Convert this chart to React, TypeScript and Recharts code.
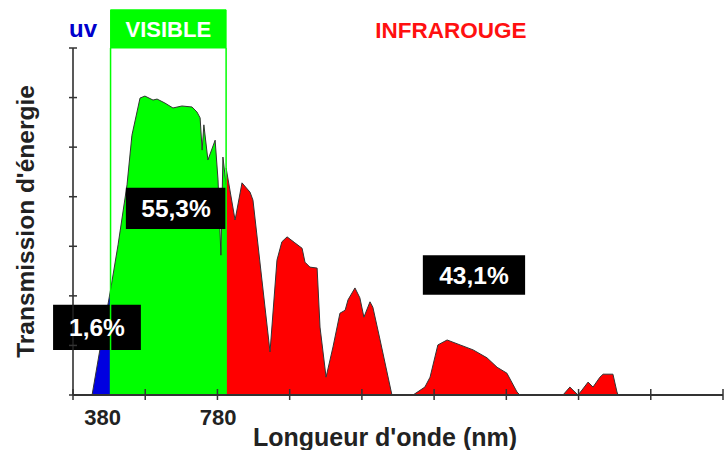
import React from 'react';
import { AreaChart, Area, XAxis, YAxis, ReferenceArea, ReferenceLine, ReferenceDot } from 'recharts';

// transmission values (arbitrary units, 0-70)
const uvNm = [316, 343, 380];
const uvValues = [0, 9.1, 21.2];

const visibleNm = [380, 406, 437, 454, 482, 499, 527, 541, 568, 596, 627, 662, 679, 690, 697, 703, 717, 742, 752, 762, 769, 780];
const visibleValues = [21.2, 30.3, 42.4, 52.4, 59.9, 60.3, 59.5, 59.7, 58.9, 57.9, 58.3, 58.1, 57.1, 55.9, 49.4, 54.5, 47.4, 51.4, 43.4, 28.2, 48.0, 42.4];

const infraredNm = [
  780, 811, 835, 863, 873, 904, 932, 956, 973, 991, 1018, 1043, 1053, 1070, 1095, 1105, 1126, 1150, 1174, 1192,
  1202, 1226, 1243, 1257, 1278, 1288, 1313, 1354, 1427, 1468, 1486, 1513, 1545, 1590, 1635, 1683, 1718, 1752,
  1787, 1797, 1946, 1970, 1998, 2012, 2033, 2050, 2074, 2085, 2119, 2133, 2137,
];
const infraredValues = [
  45.8, 35.3, 42.8, 40.9, 39.3, 23.2, 8.7, 27.2, 30.9, 31.9, 30.7, 29.6, 26.8, 25.8, 25.6, 13.7, 3.6, 9.7, 16.5, 17.1,
  19.2, 21.6, 19.6, 15.7, 18.8, 17.7, 11.1, 0, 0, 1.6, 3.6, 10.1, 11.1, 10.1, 9.1, 7.5, 5.6, 4.4,
  0.6, 0, 0, 1.6, 0, 1.0, 2.6, 1.6, 3.6, 4.2, 4.2, 0.6, 0,
];

const xTicks = [250, 380, 500, 750, 780, 1000, 1250, 1500, 1750, 2000, 2250, 2500];
const xLabels = [380, 780];
const yTicks = [0, 10, 20, 30, 40, 50, 60, 70];

type Row = { nm: number; uv: number | null; visible: number | null; infrared: number | null };

const buildData = () => {
  const rows = new Map<number, Row>();
  const put = (nms: number[], vals: number[], key: 'uv' | 'visible' | 'infrared') => {
    nms.forEach((nm, i) => {
      const row = rows.get(nm) ?? { nm, uv: null, visible: null, infrared: null };
      row[key] = vals[i];
      rows.set(nm, row);
    });
  };
  put(uvNm, uvValues, 'uv');
  put(visibleNm, visibleValues, 'visible');
  put(infraredNm, infraredValues, 'infrared');
  return [...rows.values()].sort((a, b) => a.nm - b.nm);
};

const data = buildData();

const XTick = ({ x, y, payload }: any) => {
  const v = payload.value;
  return (
    <g>
      {v % 250 === 0 && <line x1={x} x2={x} y1={y - 6} y2={y + 5} stroke="#333" strokeWidth={1.5} />}
      {xLabels.includes(v) && (
        <text x={x - 8} y={y + 22} textAnchor="middle" dominantBaseline="central" fontSize={22} fontWeight="bold" fill="#222">
          {v}
        </text>
      )}
    </g>
  );
};

const YTick = ({ x, y }: any) => (
  <line x1={x - 4} x2={x + 4} y1={y} y2={y} stroke="#333" strokeWidth={1.5} />
);

const XTitle = ({ viewBox }: any) => (
  <text x={viewBox.x + viewBox.width / 2 - 13} y={viewBox.y + 51} textAnchor="middle" fontSize={25} fontWeight="bold" fill="#222">
    Longueur d'onde (nm)
  </text>
);

const YTitle = ({ viewBox }: any) => {
  const cx = viewBox.x + 25;
  const cy = viewBox.y + viewBox.height / 2;
  return (
    <text x={cx} y={cy} transform={`rotate(-90, ${cx}, ${cy})`} textAnchor="middle" dominantBaseline="central" fontSize={24.5} fontWeight="bold" fill="#222">
      Transmission d'énergie
    </text>
  );
};

const boxLabel = (value: string) => ({
  value,
  position: 'center' as const,
  fill: '#fff',
  fontSize: 24.5,
  fontWeight: 'bold',
});

export default function App() {
  return (
    <div
      style={{
        position: 'absolute',
        left: 0,
        top: 0,
        width: 727,
        height: 450,
        background: '#fff',
        fontFamily: '"Liberation Sans", Arial, sans-serif',
      }}
    >
      <AreaChart width={727} height={450} data={data} margin={{ top: 48, right: 4, bottom: 0, left: 0 }}>
        <XAxis
          dataKey="nm"
          type="number"
          domain={[250, 2500]}
          ticks={xTicks}
          interval={0}
          height={55}
          tickSize={0}
          tickMargin={0}
          tickLine={false}
          tick={<XTick />}
          axisLine={{ stroke: '#333', strokeWidth: 2 }}
          label={<XTitle />}
        />
        <XAxis
          xAxisId="frame"
          orientation="top"
          type="number"
          domain={[250, 2500]}
          height={0}
          tick={false}
          tickLine={false}
          axisLine={{ stroke: '#888', strokeWidth: 2 }}
        />
        <YAxis
          type="number"
          domain={[0, 70]}
          ticks={yTicks}
          interval={0}
          width={73}
          tickSize={0}
          tickMargin={0}
          tickLine={false}
          tick={<YTick />}
          axisLine={{ stroke: '#222', strokeWidth: 1.5 }}
          label={<YTitle />}
        />
        <YAxis
          yAxisId="frame"
          orientation="right"
          type="number"
          domain={[0, 70]}
          width={0}
          tick={false}
          tickLine={false}
          axisLine={{ stroke: '#888', strokeWidth: 2 }}
        />

        <Area type="linear" dataKey="uv" fill="#0000e0" fillOpacity={1} stroke="#333" strokeWidth={1} isAnimationActive={false} dot={false} activeDot={false} />
        <Area type="linear" dataKey="visible" fill="#00ff00" fillOpacity={1} stroke="#333" strokeWidth={1} isAnimationActive={false} dot={false} activeDot={false} />
        <Area type="linear" dataKey="infrared" fill="#ff0000" fillOpacity={1} stroke="#333" strokeWidth={1} isAnimationActive={false} dot={false} activeDot={false} />

        <ReferenceLine x={380} stroke="#00ff00" strokeWidth={1.5} />
        <ReferenceLine x={780} stroke="#00ff00" strokeWidth={1.5} />
        <ReferenceArea
          x1={380}
          x2={780}
          y1={70}
          y2={77.7}
          ifOverflow="visible"
          fill="#00ff00"
          fillOpacity={1}
          stroke="#00ff00"
          label={{ value: 'VISIBLE', position: 'center', fill: '#fff', fontSize: 22, fontWeight: 'bold' }}
        />
        <ReferenceDot
          x={285}
          y={74}
          r={0}
          ifOverflow="visible"
          fill="none"
          stroke="none"
          label={{ value: 'uv', position: 'center', fill: '#0000cc', fontSize: 24, fontWeight: 'bold' }}
        />
        <ReferenceDot
          x={1558}
          y={73.6}
          r={0}
          ifOverflow="visible"
          fill="none"
          stroke="none"
          label={{ value: 'INFRAROUGE', position: 'center', fill: '#ff1010', fontSize: 22.5, fontWeight: 'bold' }}
        />

        <ReferenceArea x1={433} x2={780} y1={33.5} y2={41.8} ifOverflow="visible" fill="#000" fillOpacity={1} stroke="none" label={boxLabel('55,3%')} />
        <ReferenceArea x1={181} x2={485} y1={9.1} y2={18.2} ifOverflow="visible" fill="#000" fillOpacity={1} stroke="none" label={boxLabel('1,6%')} />
        <ReferenceArea x1={1461} x2={1815} y1={20.2} y2={28.2} ifOverflow="visible" fill="#000" fillOpacity={1} stroke="none" label={boxLabel('43,1%')} />
      </AreaChart>
    </div>
  );
}
